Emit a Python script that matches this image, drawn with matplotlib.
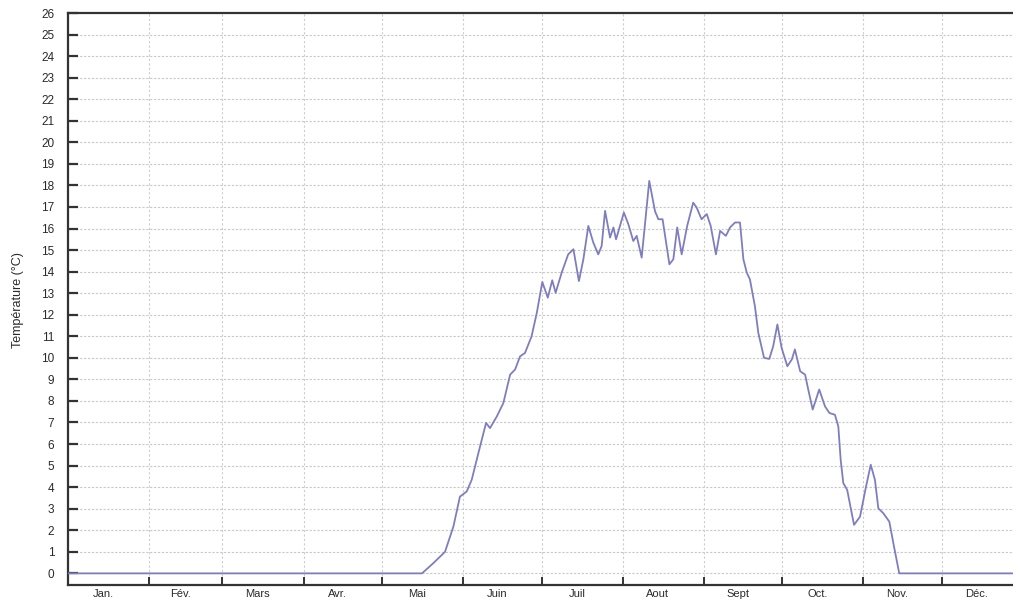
import matplotlib
matplotlib.use("Agg")
import matplotlib.pyplot as plt
import numpy as np

# Month names and lengths (days)
months = ["Jan.", "Fév.", "Mars", "Avr.", "Mai", "Juin", "Juil", "Aout", "Sept", "Oct.", "Nov.", "Déc."]
month_days = [31, 28, 31, 30, 31, 30, 31, 31, 30, 31, 30, 31]

# Curve: day of year and temperature (°C)
days = [0, 135.3, 139.6, 144.1, 147.3, 149.8, 152.4, 154.3, 157.5, 159.8, 161.3, 163.9,
        166.4, 169.0, 170.9, 172.8, 174.7, 177.2, 179.2, 181.3, 183.4, 185.1, 186.4,
        188.7, 191.2, 193.2, 195.3, 197.0, 198.9, 200.8, 202.7, 204.0, 205.3, 207.2,
        208.5, 209.5, 212.5, 214.2, 216.1, 217.4, 219.3, 222.2, 224.4, 225.7, 227.3,
        229.9, 231.4, 232.9, 234.6, 236.7, 239.0, 240.3, 242.2, 244.2, 245.7, 247.7,
        249.3, 251.5, 253.1, 255.0, 256.9, 258.2, 259.5, 260.7, 262.6, 263.9, 266.1,
        268.1, 269.6, 271.2, 272.8, 275.0, 276.7, 277.9, 279.9, 281.8, 283.0, 284.7,
        287.2, 289.4, 291.1, 293.2, 294.5, 295.4, 296.4, 297.9, 300.5, 302.8, 305.1,
        306.9, 308.5, 309.8, 311.7, 314.0, 315.8, 317.8, 365]
temps = [0, 0, 0.47, 1.0, 2.17, 3.56, 3.8, 4.34, 5.89, 6.98, 6.74, 7.28,
         7.9, 9.22, 9.46, 10.07, 10.23, 11.0, 12.09, 13.52, 12.79, 13.6, 13.02,
         13.95, 14.8, 15.04, 13.56, 14.57, 16.12, 15.35, 14.8, 15.19, 16.82, 15.58,
         16.05, 15.5, 16.74, 16.2, 15.42, 15.66, 14.65, 18.21, 16.8, 16.43, 16.43,
         14.34, 14.57, 16.05, 14.8, 16.12, 17.2, 16.98, 16.43, 16.67, 16.12, 14.8,
         15.89, 15.66, 16.05, 16.28, 16.28, 14.57, 13.95, 13.64, 12.4, 11.16, 10.0,
         9.95, 10.54, 11.55, 10.47, 9.61, 9.92, 10.39, 9.38, 9.22, 8.53, 7.6,
         8.53, 7.75, 7.44, 7.36, 6.82, 5.27, 4.19, 3.87, 2.25, 2.63, 4.03,
         5.04, 4.34, 3.02, 2.79, 2.4, 1.24, 0, 0]

y_ticks = list(range(0, 27))
y_label = "Température (°C)"

font = ["Liberation Sans", "DejaVu Sans"]
plt.rcParams["font.family"] = font

W, H = 1013, 607
fig = plt.figure(figsize=(W / 100, H / 100), dpi=100)
left, right, top, bottom = 68.2, 1013, 13, 585
ax = fig.add_axes([left / W, 1 - bottom / H, (right - left) / W, (bottom - top) / H])

px_per_day = 2.615
ax.set_xlim(0, (right - left) / px_per_day)
ax.set_ylim(-0.54, 26)

month_starts = np.concatenate([[0], np.cumsum(month_days)[:-1]])
month_mids = month_starts + np.array(month_days) / 2 - 2

ax.plot(days, temps, color="#7e7ebf", lw=1.3, zorder=3)

# grid
for v in y_ticks[:-1]:
    ax.axhline(v, color="#c8c8c8", lw=0.8, ls=(0, (2, 1.5)), zorder=1)
for d in month_starts[1:]:
    ax.axvline(d, color="#cdcdcd", lw=0.8, ls=(0, (2, 2)), zorder=1)

ax.set_yticks(y_ticks)
ax.set_yticklabels([str(v) for v in y_ticks], fontsize=8.5, color="#2a2a2a")
ax.tick_params(axis="y", direction="in", length=7, width=1.6, pad=10, color="#333333")

ax.set_xticks(month_starts[1:])
ax.set_xticklabels([])
ax.tick_params(axis="x", which="major", direction="in", length=6, width=1.4, color="#333333")
ax.set_xticks(month_mids, minor=True)
ax.set_xticklabels(months, minor=True, fontsize=8, color="#2a2a2a")
ax.tick_params(axis="x", which="minor", length=0, pad=3)

for s in ["top", "left", "bottom"]:
    ax.spines[s].set_linewidth(1.6)
    ax.spines[s].set_color("#333333")
ax.spines["right"].set_visible(False)

fig.text(18 / W, 1 - 300 / H, y_label, rotation=90, ha="center", va="center",
         fontsize=9, color="#2a2a2a")

fig.savefig("out.png", dpi=100)
